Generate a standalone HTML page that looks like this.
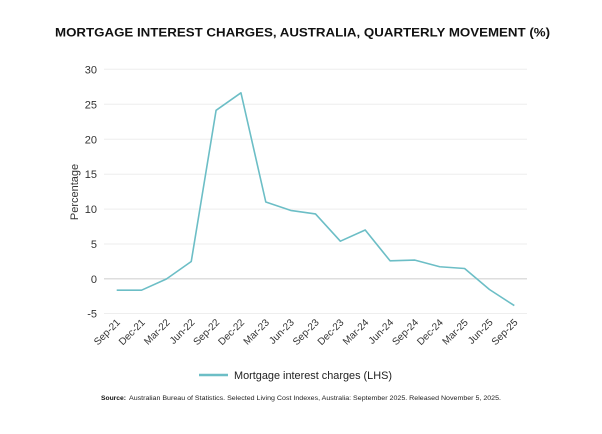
<!DOCTYPE html>
<html>
<head>
<meta charset="utf-8">
<style>
html,body{margin:0;padding:0;background:#fff;}
svg{display:block;}
text{font-family:"Liberation Sans",sans-serif;}
</style>
</head>
<body>
<svg width="602" height="434" viewBox="0 0 602 434" xmlns="http://www.w3.org/2000/svg">
<rect width="602" height="434" fill="#fff"/>
<text x="55" y="36.5" font-size="12.3" font-weight="bold" fill="#111" textLength="495" lengthAdjust="spacingAndGlyphs">MORTGAGE INTEREST CHARGES, AUSTRALIA, QUARTERLY MOVEMENT (%)</text>

<g stroke="#eeeeee" stroke-width="1">
<line x1="104" x2="527" y1="69.3" y2="69.3"/>
<line x1="104" x2="527" y1="104.3" y2="104.3"/>
<line x1="104" x2="527" y1="139.3" y2="139.3"/>
<line x1="104" x2="527" y1="174.2" y2="174.2"/>
<line x1="104" x2="527" y1="209.1" y2="209.1"/>
<line x1="104" x2="527" y1="244" y2="244"/>
<line x1="104" x2="527" y1="313.5" y2="313.5"/>
</g>
<line x1="104" x2="527" y1="278.8" y2="278.8" stroke="#dedede" stroke-width="1.5"/>

<g font-size="11" fill="#333" text-anchor="end">
<text x="97" y="73.3">30</text>
<text x="97" y="108.3">25</text>
<text x="97" y="143.3">20</text>
<text x="97" y="178.2">15</text>
<text x="97" y="213.1">10</text>
<text x="97" y="248">5</text>
<text x="97" y="282.8">0</text>
<text x="97" y="317.5">-5</text>
</g>

<text transform="translate(78,192) rotate(-90)" font-size="11" fill="#333" text-anchor="middle">Percentage</text>

<polyline fill="none" stroke="#6cbec6" stroke-width="1.6" stroke-linejoin="round"
points="116.7,290.2 141.55,290.2 166.4,279 191.25,261.5 216.1,110.3 240.95,92.8 265.8,202 290.65,210.4 315.5,213.9 340.35,241.2 365.2,230 390.05,260.8 414.9,260.1 439.75,266.75 464.6,268.5 489.45,289.5 514.3,305.6"/>

<g font-size="10" fill="#333" text-anchor="end">
<text transform="translate(120.7,323) rotate(-45)">Sep-21</text>
<text transform="translate(145.55,323) rotate(-45)">Dec-21</text>
<text transform="translate(170.4,323) rotate(-45)">Mar-22</text>
<text transform="translate(195.25,323) rotate(-45)">Jun-22</text>
<text transform="translate(220.1,323) rotate(-45)">Sep-22</text>
<text transform="translate(244.95,323) rotate(-45)">Dec-22</text>
<text transform="translate(269.8,323) rotate(-45)">Mar-23</text>
<text transform="translate(294.65,323) rotate(-45)">Jun-23</text>
<text transform="translate(319.5,323) rotate(-45)">Sep-23</text>
<text transform="translate(344.35,323) rotate(-45)">Dec-23</text>
<text transform="translate(369.2,323) rotate(-45)">Mar-24</text>
<text transform="translate(394.05,323) rotate(-45)">Jun-24</text>
<text transform="translate(418.9,323) rotate(-45)">Sep-24</text>
<text transform="translate(443.75,323) rotate(-45)">Dec-24</text>
<text transform="translate(468.6,323) rotate(-45)">Mar-25</text>
<text transform="translate(493.45,323) rotate(-45)">Jun-25</text>
<text transform="translate(518.3,323) rotate(-45)">Sep-25</text>
</g>

<line x1="199" x2="228" y1="375" y2="375" stroke="#6cbec6" stroke-width="2.5"/>
<text x="234" y="379" font-size="11" fill="#222" textLength="158" lengthAdjust="spacingAndGlyphs">Mortgage interest charges (LHS)</text>

<text x="101" y="400" font-size="6.8" font-weight="bold" fill="#111" textLength="25" lengthAdjust="spacingAndGlyphs">Source:</text>
<text x="129" y="400" font-size="6.8" fill="#222" textLength="372" lengthAdjust="spacingAndGlyphs">Australian Bureau of Statistics. Selected Living Cost Indexes, Australia: September 2025. Released November 5, 2025.</text>
</svg>
</body>
</html>
